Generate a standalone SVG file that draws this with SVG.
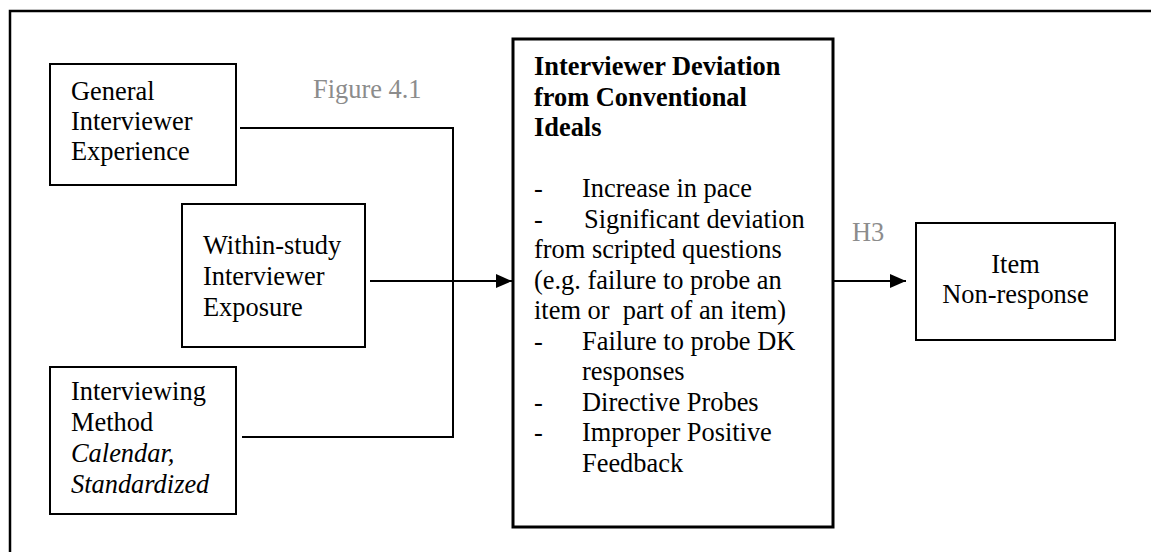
<svg xmlns="http://www.w3.org/2000/svg" width="1151" height="552" viewBox="0 0 1151 552">
  <defs>
    <style>
      .box { fill: #ffffff; stroke: #000000; stroke-width: 2; }
      .main { fill: #ffffff; stroke: #000000; stroke-width: 3; }
      .wire { fill: none; stroke: #000000; stroke-width: 2; }
      .frame { fill: none; stroke: #000000; stroke-width: 2.5; }
      text { font-family: "Liberation Serif", "Times New Roman", serif; font-size: 26.4px; fill: #000000; }
      .bold { font-weight: bold; }
      .ital { font-style: italic; }
      .note { fill: #8c8c8c; }
      .mid { text-anchor: middle; }
    </style>
    <marker id="arrow" markerWidth="16" markerHeight="14" refX="16" refY="7" orient="auto" markerUnits="userSpaceOnUse">
      <path d="M0,0 L16,7 L0,14 Z" fill="#000000"/>
    </marker>
  </defs>

  <rect width="1151" height="552" fill="#ffffff"/>

  <!-- page frame: top and left rules -->
  <path class="frame" d="M10,552 L10,11 L1151,11"/>

  <!-- captions -->
  <text id="figure-label" class="note" x="313" y="98">Figure 4.1</text>
  <text id="h3-label" class="note" x="852" y="241">H3</text>

  <!-- connectors -->
  <g id="connectors">
    <path class="wire" d="M240,128 L453,128 L453,437 L242,437"/>
    <path class="wire" d="M370,281 L512,281" marker-end="url(#arrow)"/>
    <path class="wire" d="M834,281 L906,281" marker-end="url(#arrow)"/>
  </g>

  <g id="general-experience">
    <rect class="box" x="50" y="64" width="186" height="121"/>
    <text x="71" y="100">General</text>
    <text x="71" y="130">Interviewer</text>
    <text x="71" y="160">Experience</text>
  </g>

  <g id="within-study-exposure">
    <rect class="box" x="182" y="204" width="183" height="143"/>
    <text x="203" y="254">Within-study</text>
    <text x="203" y="285">Interviewer</text>
    <text x="203" y="316">Exposure</text>
  </g>

  <g id="interviewing-method">
    <rect class="box" x="50" y="367" width="186" height="147"/>
    <text x="71" y="400">Interviewing</text>
    <text x="71" y="431">Method</text>
    <text class="ital" x="71" y="462">Calendar,</text>
    <text class="ital" x="71" y="493">Standardized</text>
  </g>

  <g id="interviewer-deviation">
    <rect class="main" x="513" y="39" width="320" height="488"/>
    <text class="bold" x="534" y="75">Interviewer Deviation</text>
    <text class="bold" x="534" y="105.5">from Conventional</text>
    <text class="bold" x="534" y="136">Ideals</text>
    <text x="534" y="197">-</text>
    <text x="582" y="197">Increase in pace</text>
    <text x="534" y="227.5">-</text>
    <text x="584" y="227.5">Significant deviation</text>
    <text x="534" y="258">from scripted questions</text>
    <text x="534" y="288.5">(e.g. failure to probe an</text>
    <text x="534" y="319" xml:space="preserve">item or  part of an item)</text>
    <text x="534" y="349.5">-</text>
    <text x="582" y="349.5">Failure to probe DK</text>
    <text x="582" y="380">responses</text>
    <text x="534" y="410.5">-</text>
    <text x="582" y="410.5">Directive Probes</text>
    <text x="534" y="441">-</text>
    <text x="582" y="441">Improper Positive</text>
    <text x="582" y="471.5">Feedback</text>
  </g>

  <g id="item-nonresponse">
    <rect class="box" x="916" y="223" width="199" height="117"/>
    <text class="mid" x="1015.5" y="273">Item</text>
    <text class="mid" x="1015.5" y="303">Non-response</text>
  </g>
</svg>
